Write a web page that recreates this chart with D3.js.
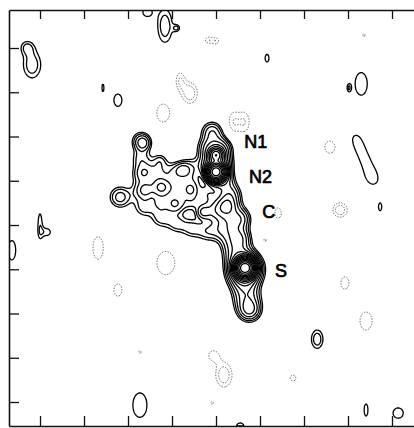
<!DOCTYPE html>
<html>
<head>
<meta charset="utf-8">
<script src="https://cdn.jsdelivr.net/npm/d3@7"></script>
<style>
  body { margin: 0; background: #fff; }
  svg { display: block; }
</style>
</head>
<body>
<div id="chart"></div>
<script>
// Components: [x, y, peak, sigmaX, sigmaY] in tick units (y up)

// broad emission, peak 1.6 / sigma 0.16 unless given
const extended = [
  [2.30, 5.90, 1.8], [2.30, 5.50], [2.30, 5.14], [2.30, 4.77], [2.36, 4.40],
  [2.68, 5.25], [3.05, 5.20], [3.42, 5.30, 1.4],
  [2.70, 4.90], [3.08, 4.85], [3.45, 4.95],
  [2.72, 4.50], [3.08, 4.50], [3.45, 4.55], [3.82, 4.70],
  [2.75, 4.15], [3.10, 4.02], [3.45, 3.92], [3.80, 3.85], [4.10, 3.90],
  [3.85, 4.30], [4.10, 4.35, 2.0],
  [3.91, 6.10, 2.6], [3.82, 5.74, 2.6], [4.14, 5.74, 2.6], [3.82, 5.38, 2.6], [4.14, 5.38, 2.6],
  [4.18, 5.02, 2.6], [4.32, 4.70, 2.6],
  [4.27, 4.38, 2.6, 0.2, 0.2], [4.41, 4.07, 2.6, 0.2, 0.2], [4.39, 3.71, 2.6, 0.2, 0.2],
  [4.48, 3.39, 2.6, 0.2, 0.2], [4.61, 3.07, 2.6, 0.2, 0.2], [4.64, 2.71, 2.6, 0.2, 0.2],
  [4.70, 2.35, 2.6, 0.2, 0.2], [4.75, 2.08, 2.6, 0.18, 0.18],
  [4.58, 4.15, 1.6, 0.14, 0.14], [4.58, 3.70, 1.6, 0.14, 0.14]
];

// knots and compact cores (N1, N2, S)
const knots = [
  [2.34, 5.85, 2.0, 0.11, 0.11], [2.39, 5.20, 1.1, 0.13, 0.13], [2.41, 4.79, 1.6, 0.12, 0.12],
  [2.77, 4.84, 2.6, 0.14, 0.14], [2.73, 5.47, 1.1, 0.11, 0.11], [3.25, 5.24, 2.2, 0.12, 0.12],
  [3.41, 4.79, 1.6, 0.10, 0.10], [3.70, 4.29, 2.0, 0.10, 0.10], [4.25, 4.45, 2.3, 0.13, 0.13],
  [3.07, 4.45, 1.1, 0.13, 0.13], [4.77, 2.08, 1.5, 0.13, 0.13],
  [4.00, 5.58, 25, 0.09, 0.09], [4.00, 5.20, 120, 0.105, 0.105], [4.02, 5.40, 5, 0.16, 0.27],
  [4.66, 3.03, 180, 0.11, 0.11], [4.66, 3.00, 8, 0.22, 0.22],
  [1.82, 4.63, 2.4, 0.17, 0.17]
];

// faint positive blobs in the field
const fieldPos = [
  [-0.18, 7.62, 1.8, 0.18, 0.27], [-0.30, 8.02, 1.3, 0.125, 0.125],
  [2.43, 8.81, 1.3, 0.125, 0.125], [2.84, 8.50, 1.8, 0.15, 0.34], [3.11, 8.45, 1.3, 0.064, 0.064],
  [5.16, 7.77, 1.3, 0.06, 0.12], [7.30, 7.19, 1.3, 0.19, 0.35], [7.02, 7.10, 1.15, 0.04, 0.08],
  [1.77, 6.82, 1.3, 0.125, 0.19], [1.43, 7.10, 1.3, 0.03, 0.12],
  [7.16, 6.01, 0.8, 0.18, 0.18], [7.27, 5.74, 0.8, 0.18, 0.18], [7.39, 5.47, 0.8, 0.18, 0.18],
  [7.50, 5.20, 0.8, 0.18, 0.18], [7.59, 4.97, 0.8, 0.18, 0.18],
  [7.73, 4.41, 1.3, 0.05, 0.12], [0.00, 4.00, 1.3, 0.06, 0.35], [0.16, 3.84, 1.3, 0.1, 0.1],
  [6.30, 1.42, 1.8, 0.12, 0.19], [2.27, -0.07, 1.3, 0.22, 0.38], [4.55, -0.56, 1.3, 0.12, 0.12],
  [7.41, -0.18, 1.3, 0.06, 0.19], [8.14, -0.25, 1.3, 0.16, 0.16], [-0.64, 3.43, 1.3, 0.12, 0.3]
];

// negative blobs (dotted contours)
const fieldNeg = [
  [4.39, 6.33, -1.3, 0.125, 0.25], [4.66, 6.33, -1.3, 0.125, 0.25],
  [3.82, 8.18, -1.3, 0.08, 0.08], [4.00, 8.16, -1.3, 0.08, 0.08],
  [3.18, 7.28, -1.3, 0.1, 0.19], [3.41, 6.98, -1.8, 0.15, 0.21], [2.80, 6.53, -1.3, 0.2, 0.28],
  [6.59, 5.76, -1.3, 0.16, 0.19], [6.82, 4.34, -1.8, 0.15, 0.15], [1.32, 3.48, -1.3, 0.16, 0.35],
  [2.86, 3.14, -1.3, 0.28, 0.36], [1.77, 2.53, -1.3, 0.125, 0.19], [5.41, 4.27, -1.3, 0.1, 0.16],
  [5.11, 3.66, -1.3, 0.04, 0.04], [6.93, 2.69, -1.3, 0.125, 0.19], [7.41, 1.83, -1.3, 0.19, 0.28],
  [3.93, 1.06, -1.2, 0.14, 0.14], [4.18, 0.61, -1.8, 0.17, 0.25], [2.27, 1.13, -1.3, 0.04, 0.04],
  [5.75, 0.54, -1.3, 0.09, 0.09], [3.91, -0.02, -1.3, 0.04, 0.04], [7.36, 8.29, -1.3, 0.04, 0.04]
];

const posLevels = [1, 1.41, 2, 2.83, 4, 5.66, 8, 11.3, 16, 22.6, 32, 45, 64, 90, 128];
const negLevels = [1, 1.41, 2];

const labelText = ["N1", "N2", "C", "S"];
const labelX = [4.64, 4.75, 5.05, 5.34];
const labelY = [5.74, 4.95, 4.16, 2.82];

const tickVals = [0, 1, 2, 3, 4, 5, 6, 7, 8];

const width = 414, height = 428;

const x = d3.scaleLinear().domain([-0.705, 8.5]).range([9, 414]);
const y = d3.scaleLinear().domain([-0.542, 8.859]).range([426, 10]);

const comps = [...extended, ...knots, ...fieldPos, ...fieldNeg].map(c => ({
  x: c[0], y: c[1], peak: c[2] ?? 1.6, sx: c[3] ?? 0.16, sy: c[4] ?? 0.16
}));

const svg = d3.select("#chart").append("svg")
  .attr("width", width)
  .attr("height", height);

svg.append("clipPath").attr("id", "frame")
  .append("rect")
  .attr("x", 9).attr("y", 10)
  .attr("width", 405).attr("height", 416);

// --- sample the brightness on a 1px grid ---
const x0 = 9, y0 = 10, nx = 405, ny = 416;
const grid = new Float64Array(nx * ny);
for (let j = 0; j < ny; j++) {
  const dy = y.invert(y0 + j + 0.5);
  for (let i = 0; i < nx; i++) {
    const dx = x.invert(x0 + i + 0.5);
    let v = 0;
    for (const c of comps) {
      const u = (dx - c.x) / c.sx;
      const w = (dy - c.y) / c.sy;
      const r2 = u * u + w * w;
      if (r2 < 40) v += c.peak * Math.exp(-0.5 * r2);
    }
    grid[j * nx + i] = v;
  }
}
const negGrid = grid.map(v => -v);

const toPx = d3.geoTransform({
  point: function (gx, gy) { this.stream.point(x0 + gx, y0 + gy); }
});
const path = d3.geoPath(toPx);

const g = svg.append("g").attr("clip-path", "url(#frame)");

// negative contours, dotted
g.append("g")
  .attr("fill", "none")
  .attr("stroke", "#555")
  .attr("stroke-width", 0.9)
  .attr("stroke-dasharray", "1.4,1.4")
  .selectAll("path")
  .data(d3.contours().size([nx, ny]).thresholds(negLevels)(negGrid))
  .join("path")
  .attr("d", path);

// positive contours
g.append("g")
  .attr("fill", "none")
  .attr("stroke", "#000")
  .attr("stroke-width", 1.3)
  .attr("stroke-linejoin", "round")
  .selectAll("path")
  .data(d3.contours().size([nx, ny]).thresholds(posLevels)(grid))
  .join("path")
  .attr("d", path);

// --- frame and ticks ---
const frame = svg.append("g").attr("class", "frame");

frame.append("g")
  .attr("transform", `translate(0,${y.range()[1]})`)
  .call(d3.axisBottom(x).tickValues(tickVals).tickSize(9).tickSizeOuter(0).tickFormat(""));

frame.append("g")
  .attr("transform", `translate(0,${y.range()[0]})`)
  .call(d3.axisTop(x).tickValues(tickVals).tickSize(10).tickSizeOuter(0).tickFormat(""));

frame.append("g")
  .attr("transform", `translate(${x.range()[0]},0)`)
  .call(d3.axisRight(y).tickValues(tickVals).tickSize(10).tickSizeOuter(0).tickFormat(""));

frame.selectAll(".domain").attr("stroke", "#111").attr("stroke-width", 1.6);
frame.selectAll(".tick line").attr("stroke", "#111").attr("stroke-width", 1.3);

// --- component labels ---
svg.append("g")
  .selectAll("text")
  .data(labelText)
  .join("text")
  .attr("x", (d, i) => x(labelX[i]))
  .attr("y", (d, i) => y(labelY[i]))
  .attr("font-family", "Liberation Sans, Arial, sans-serif")
  .attr("font-size", 18)
  .attr("fill", "#000")
  .attr("stroke", "#000")
  .attr("stroke-width", 0.7)
  .text(d => d);
</script>
</body>
</html>
